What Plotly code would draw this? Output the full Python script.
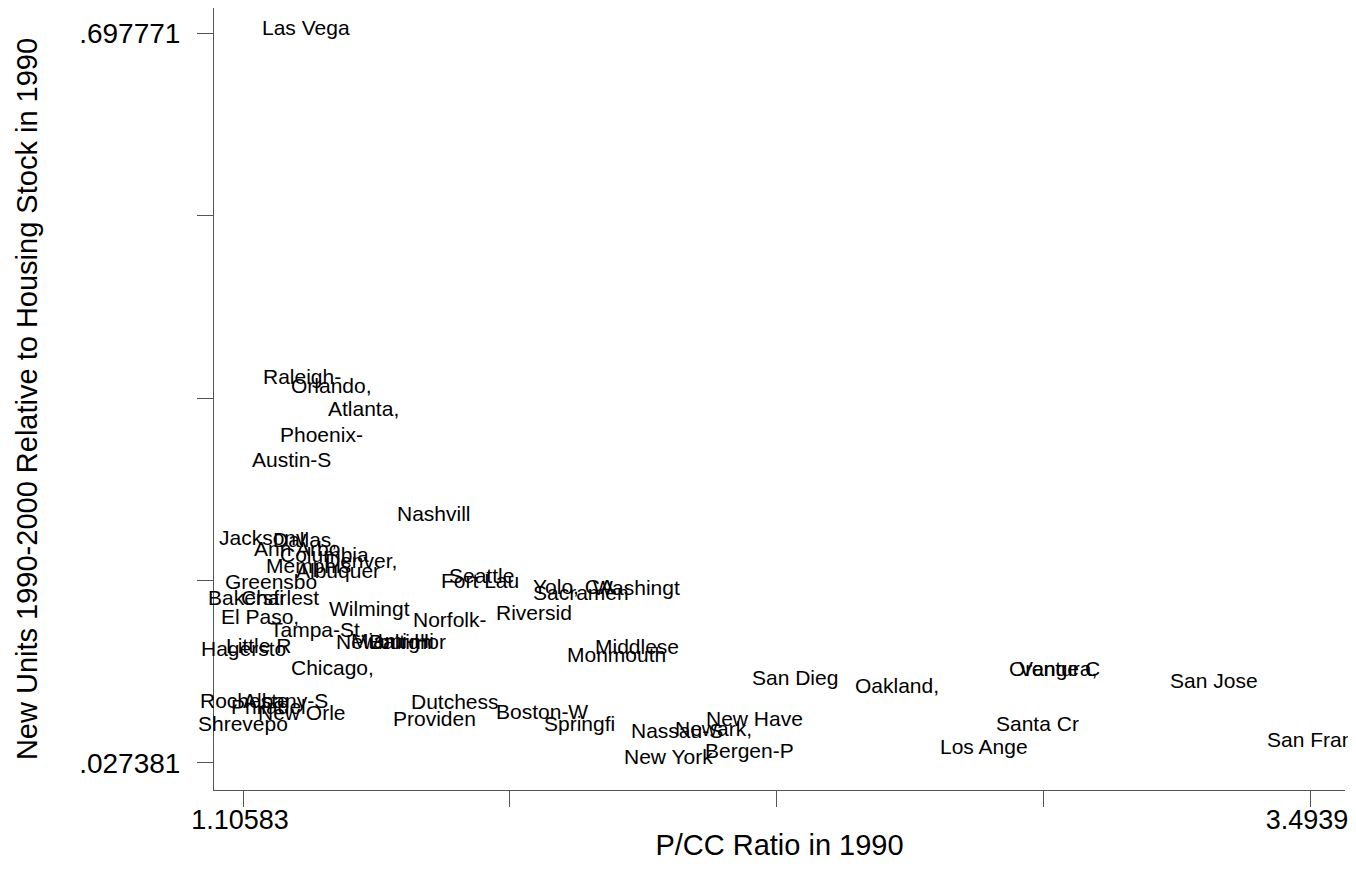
import plotly.graph_objects as go

cities = ["Las Vega", "Raleigh-", "Orlando,", "Atlanta,", "Phoenix-", "Austin-S", "Nashvill",
          "Jacksonv", "Dallas,", "Ann Arbo", "Columbia", "Denver,", "Memphis", "Albuquer",
          "Greensbo", "Bakersfi", "Charlest", "El Paso,", "Wilmingt", "Norfolk-", "Tampa-St,",
          "Little R", "Hagersto", "Newburgh", "Baltimor", "Miami-Hi", "Chicago,", "Rocheste",
          "Albany-S", "Philadel", "New Orle", "Shrevepo", "Dutchess", "Providen", "Boston-W",
          "Springfi", "Fort Lau", "Seattle", "Yolo, CA", "Sacramen", "Washingt", "Riversid",
          "Middlese", "Monmouth", "San Dieg", "Oakland,", "Orange C", "Ventura,", "San Jose",
          "Santa Cr", "Los Ange", "San Fran", "New Have", "Newark,", "Nassau-S", "Bergen-P",
          "New York"]

pcc_ratio = [1.2468, 1.2379, 1.3028, 1.3766, 1.2804, 1.2133, 1.5333,
             1.1506, 1.2446, 1.2267, 1.2871, 1.3699, 1.2535, 1.3184,
             1.1685, 1.1125, 1.1886, 1.1439, 1.3878, 1.5691, 1.2737,
             1.1394, 1.1080, 1.4214, 1.4729, 1.4415, 1.3072, 1.1081,
             1.1998, 1.1618, 1.2379, 1.10583, 1.5803, 1.5333, 1.7750,
             1.8600, 1.6362, 1.6407, 1.8444, 1.8623, 1.9876, 1.7571,
             1.9876, 1.9428, 2.3412, 2.5695, 2.9231, 2.9298, 3.2789,
             2.8850, 2.7642, 3.4939, 2.2517, 2.1599, 2.0771, 2.2383,
             2.0570]

new_units = [0.697771, 0.3764, 0.3690, 0.3470, 0.3240, 0.3002, 0.2506,
             0.2285, 0.2267, 0.2184, 0.2138, 0.2074, 0.2028, 0.1982,
             0.1881, 0.1734, 0.1743, 0.1560, 0.1642, 0.1541, 0.1449,
             0.1302, 0.1266, 0.1339, 0.1330, 0.1348, 0.1100, 0.0797,
             0.0797, 0.0733, 0.0687, 0.0577, 0.0788, 0.0623, 0.0696,
             0.0577, 0.1899, 0.1945, 0.1835, 0.1789, 0.1826, 0.1605,
             0.1284, 0.1211, 0.1000, 0.0935, 0.1091, 0.1091, 0.0972,
             0.0577, 0.0366, 0.0430, 0.0623, 0.0531, 0.0513, 0.0338,
             0.027381]

x_tickvals = [1.10583, 1.7028475, 2.299865, 2.8968825, 3.4939]
x_ticktext = ["1.10583", "", "", "", "3.4939"]
y_tickvals = [0.027381, 0.1949785, 0.362576, 0.5301735, 0.697771]
y_ticktext = [".027381", "", "", "", ".697771"]

FONT = "Liberation Sans, Arial, sans-serif"
AXC = "#555555"

fig = go.Figure()
fig.add_trace(go.Scatter(x=pcc_ratio, y=new_units, mode="markers",
                         marker=dict(size=1, opacity=0), text=cities,
                         hoverinfo="text", showlegend=False))

for name, xv, yv in zip(cities, pcc_ratio, new_units):
    fig.add_annotation(x=xv, y=yv, text=name, showarrow=False, xanchor="center",
                       yanchor="middle", yshift=6,
                       font=dict(family=FONT, size=21, color="black"))

fig.update_layout(
    width=1348, height=853,
    margin=dict(l=206, r=11, t=0, b=71),
    paper_bgcolor="white", plot_bgcolor="white",
    font=dict(family=FONT, color="black"),
    xaxis=dict(range=[1.0409, 3.5722], tickmode="array", tickvals=x_tickvals,
               ticktext=x_ticktext, ticks="outside", ticklen=16, tickcolor=AXC,
               tickwidth=1, showgrid=False, zeroline=False, showline=True,
               linecolor=AXC, linewidth=1, tickfont=dict(size=27),
               automargin=False, ticklabelstandoff=-10, ticklabelshift=-3,
               ticklabeloverflow="allow",
               title=dict(text="P/CC Ratio in 1990", font=dict(size=29), standoff=8)),
    yaxis=dict(range=[0.00258, 0.72073], tickmode="array", tickvals=y_tickvals,
               ticktext=y_ticktext, ticks="outside", ticklen=16, tickcolor=AXC,
               tickwidth=1, showgrid=False, zeroline=False, showline=True,
               linecolor=AXC, linewidth=1, tickfont=dict(size=28),
               ticklabelstandoff=11, automargin=False,
               title=dict(text="New Units 1990-2000 Relative to Housing Stock in 1990",
                          font=dict(size=29), standoff=33)),
)

fig.write_html("out.html")
